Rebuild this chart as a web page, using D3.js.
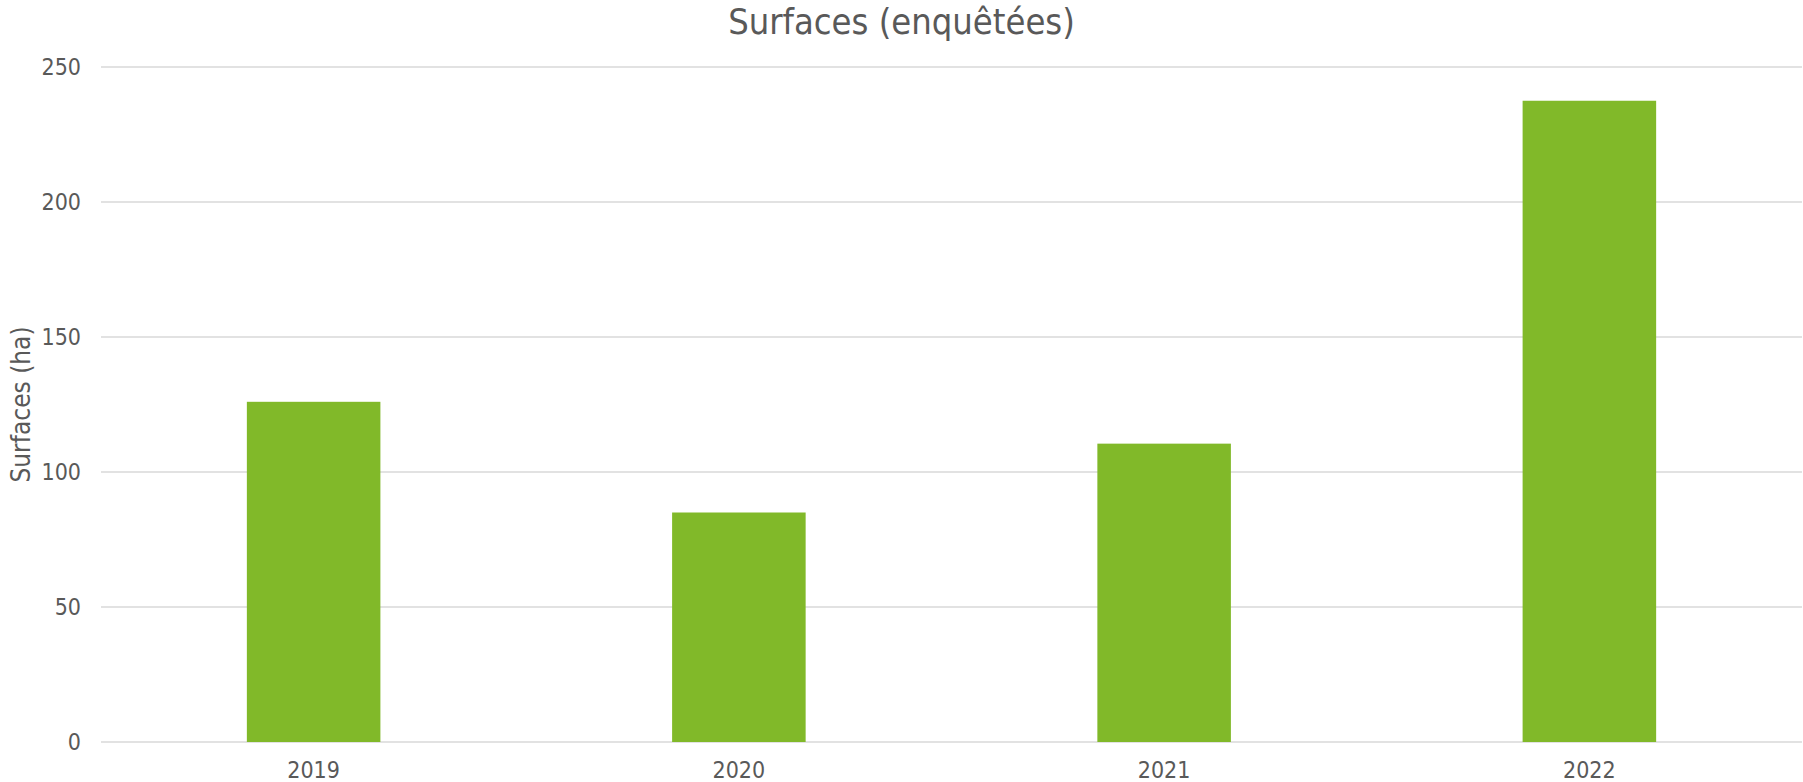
<!DOCTYPE html>
<html>
<head>
<meta charset="utf-8">
<script src="https://cdn.jsdelivr.net/npm/d3@7"></script>
<style>
  body { margin: 0; background: #fff; }
  text { font-family: "DejaVu Sans Condensed", "DejaVu Sans", Verdana, sans-serif; font-stretch: condensed; fill: #595959; }
</style>
</head>
<body>
<div id="chart"></div>
<script>
// data
let years = ['2019', '2020', '2021', '2022'];
let surfaces = [126, 85, 110.5, 237.5];
let yTicks = [0, 50, 100, 150, 200, 250];

let totalWidth = 1803;
let totalHeight = 782;
let margins = { top: 67, right: 1, bottom: 40, left: 101 };

let svg = d3.select('#chart')
    .append('svg')
    .attr('width', totalWidth)
    .attr('height', totalHeight);

let xScale = d3.scaleBand()
    .domain(years)
    .range([margins.left, totalWidth - margins.right])
    .paddingInner(0.686)
    .paddingOuter(0.343);

let yScale = d3.scaleLinear()
    .domain([0, 250])
    .range([totalHeight - margins.bottom, margins.top]);

// gridlines
svg.append('g')
    .selectAll('line')
    .data(yTicks)
    .enter()
    .append('line')
    .attr('x1', margins.left)
    .attr('x2', totalWidth - margins.right)
    .attr('y1', d => yScale(d))
    .attr('y2', d => yScale(d))
    .style('stroke', '#d9d9d9')
    .style('stroke-width', 1.5);

// y tick labels
svg.append('g')
    .selectAll('text')
    .data(yTicks)
    .enter()
    .append('text')
    .attr('x', margins.left - 20)
    .attr('y', d => yScale(d))
    .attr('dy', '0.36em')
    .attr('text-anchor', 'end')
    .style('font-size', '23px')
    .text(d => d);

// bars
svg.append('g')
    .selectAll('rect')
    .data(surfaces)
    .enter()
    .append('rect')
    .attr('x', (d, i) => xScale(years[i]))
    .attr('width', xScale.bandwidth())
    .attr('y', d => yScale(d))
    .attr('height', d => yScale(0) - yScale(d))
    .style('fill', '#81b929');

// x axis labels
let xAxis = d3.axisBottom(xScale).tickSize(0).tickPadding(20);
let xg = svg.append('g')
    .attr('transform', `translate(0, ${yScale(0)})`)
    .call(xAxis);
xg.select('.domain').remove();
xg.selectAll('text')
    .style('font-size', '23px')
    .style('font-family', '"DejaVu Sans Condensed", "DejaVu Sans", Verdana, sans-serif')
    .style('fill', '#595959');

// title
svg.append('text')
    .attr('x', totalWidth / 2)
    .attr('y', 34)
    .attr('text-anchor', 'middle')
    .style('font-size', '36px')
    .text('Surfaces (enquêtées)');

// y axis title
svg.append('text')
    .attr('transform', `translate(30, ${(yScale(0) + yScale(250)) / 2}) rotate(-90)`)
    .attr('text-anchor', 'middle')
    .style('font-size', '26px')
    .text('Surfaces (ha)');
</script>
</body>
</html>
